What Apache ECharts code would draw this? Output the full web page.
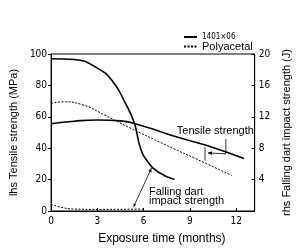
<!DOCTYPE html>
<html><head><meta charset="utf-8">
<script src="https://cdn.jsdelivr.net/npm/echarts@6/dist/echarts.min.js"></script>
<style>html,body{margin:0;padding:0;background:#fff}#c{width:300px;height:250px}</style>
</head><body><div id="c"></div>
<script>
// ---- data ----
const xTicks = [0, 3, 6, 9, 12];
const lhsTicks = [0, 20, 40, 60, 80, 100];
const rhsTicks = [4, 8, 12, 16, 20];

// 1401x06 tensile strength (MPa, lhs)
const t1401X = [0, 1.5, 3, 4.5, 6, 8, 10, 12.5];
const t1401Y = [55.6, 57.2, 58, 57.4, 54, 47.6, 42, 33.5];
// Polyacetal tensile strength (MPa, lhs)
const tPolyX = [0, 0.8, 2, 3.5, 5, 7.5, 10, 11.7];
const tPolyY = [68.5, 69.5, 67.8, 61, 53.5, 41.8, 30.5, 22.7];
// 1401x06 falling dart impact strength (J, rhs)
const f1401X = [0, 1.5, 3, 4, 4.8, 5.4, 5.8, 6.3, 7.0, 8.0];
const f1401Y = [19.4, 19.3, 18.2, 16.5, 13.8, 11.2, 8.0, 6.2, 4.9, 4.0];
// Polyacetal falling dart impact strength (J, rhs)
const fPolyX = [0, 0.7, 1.5, 3, 6];
const fPolyY = [0.85, 0.45, 0.25, 0.2, 0.25];

const zip = (a, b) => a.map((v, i) => [v, b[i]]);
const tickFont = "'Liberation Sans Narrow','DejaVu Sans Condensed','Arial Narrow',sans-serif";
const sans = "'Liberation Sans', Arial, sans-serif";

const chart = echarts.init(document.getElementById('c'), null, {renderer: 'canvas'});
const lineSeries = (name, axis, xs, ys, solid) => ({
  name, type: 'line', yAxisIndex: axis, data: zip(xs, ys), smooth: 0.5, symbol: 'none',
  lineStyle: {color: '#000', width: solid ? 1.6 : 1, type: solid ? 'solid' : [2, 1.5]},
  itemStyle: {color: '#000'}
});
const option = {
  animation: false,
  backgroundColor: '#fff',
  grid: {left: 42, right: 43, top: 54, bottom: 34, show: true, borderColor: '#000', borderWidth: 1},
  legend: {
    orient: 'vertical', left: 178, top: 28, itemGap: 0, itemWidth: 13, itemHeight: 9,
    data: ['1401×06', 'Polyacetal'],
    itemStyle: {color: 'rgba(0,0,0,0)', borderColor: 'rgba(0,0,0,0)', borderWidth: 0},
    formatter: n => n === 'Polyacetal' ? '{b|' + n + '}' : '{a|' + n + '}',
    textStyle: {
      rich: {
        a: {fontSize: 8, fontFamily: tickFont, color: '#000'},
        b: {fontSize: 11, fontFamily: sans, color: '#000'}
      }
    }
  },
  xAxis: {
    type: 'value', min: 0, max: 13.2,
    name: 'Exposure time (months)', nameLocation: 'middle', nameGap: 22,
    nameTextStyle: {fontSize: 12, color: '#000', fontFamily: sans, padding: [0, 0, 0, 18]},
    axisLine: {lineStyle: {color: '#000', width: 1}},
    axisTick: {inside: true, length: 3, customValues: xTicks, lineStyle: {color: '#000'}},
    axisLabel: {customValues: xTicks, fontSize: 10, color: '#000', margin: 5, fontFamily: tickFont},
    splitLine: {show: false}
  },
  yAxis: [{
    type: 'value', min: 0, max: 100, position: 'left',
    name: 'lhs Tensile strength (MPa)', nameLocation: 'middle', nameGap: 24, nameRotate: 90,
    nameTextStyle: {fontSize: 11, color: '#000', fontFamily: sans},
    axisLine: {show: true, lineStyle: {color: '#000', width: 1}},
    axisTick: {show: true, length: 3, customValues: lhsTicks, lineStyle: {color: '#000'}},
    axisLabel: {customValues: lhsTicks, fontSize: 10, color: '#000', margin: 4, fontFamily: tickFont},
    splitLine: {show: false}
  }, {
    type: 'value', min: 0, max: 20, position: 'right',
    name: 'rhs Falling dart impact strength (J)', nameLocation: 'middle', nameGap: 15, nameRotate: 90,
    nameTextStyle: {fontSize: 11, color: '#000', fontFamily: sans},
    axisLine: {show: true, lineStyle: {color: '#000', width: 1}},
    axisTick: {show: true, inside: true, length: 3, customValues: rhsTicks, lineStyle: {color: '#000'}},
    axisLabel: {customValues: rhsTicks, fontSize: 10, color: '#000', margin: 4, fontFamily: tickFont},
    splitLine: {show: false}
  }],
  series: [
    lineSeries('1401×06', 0, t1401X, t1401Y, true),
    lineSeries('Polyacetal', 0, tPolyX, tPolyY, false),
    lineSeries('1401×06', 1, f1401X, f1401Y, true),
    lineSeries('Polyacetal', 1, fPolyX, fPolyY, false)
  ]
};
chart.setOption(option);

// ---- annotations placed in data coordinates (lhs scale) ----
const P = (x, y) => chart.convertToPixel({xAxisIndex: 0, yAxisIndex: 0}, [x, y]);
const lineEl = (pts, w) => ({type: 'polyline', shape: {points: pts}, style: {stroke: '#000', lineWidth: w || 0.8, fill: null}, silent: true});
function arrowHead(tip, from, size) {
  const dx = tip[0] - from[0], dy = tip[1] - from[1];
  const L = Math.hypot(dx, dy), ux = dx / L, uy = dy / L;
  const bx = tip[0] - ux * size, by = tip[1] - uy * size;
  return {type: 'polygon', shape: {points: [tip, [bx - uy * size * 0.45, by + ux * size * 0.45], [bx + uy * size * 0.45, by - ux * size * 0.45]]}, style: {fill: '#000'}, silent: true};
}
const tText = P(10.65, 51.2);
const barTop = P(9.98, 40.7), barBot = P(9.98, 32.1);
const l1 = P(11.33, 45.7), l2 = P(11.33, 36.4), l3 = P(10.17, 37.0);
const fText1 = P(6.35, 12.3), fText2 = P(6.35, 6.2);
const a1 = P(6.51, 27.3), a2 = P(5.35, 2.7);
chart.setOption({
  graphic: [
    {type: 'text', x: tText[0], y: tText[1], style: {text: 'Tensile strength', fontSize: 11, fill: '#000', align: 'center', verticalAlign: 'middle', fontFamily: sans}, silent: true},
    lineEl([barTop, barBot]),
    lineEl([l1, l2, l3]),
    arrowHead(l3, l2, 4),
    {type: 'text', x: fText1[0], y: fText1[1], style: {text: 'Falling dart', fontSize: 11, fill: '#000', align: 'left', verticalAlign: 'middle', fontFamily: sans}, silent: true},
    {type: 'text', x: fText2[0], y: fText2[1], style: {text: 'impact strength', fontSize: 11, fill: '#000', align: 'left', verticalAlign: 'middle', fontFamily: sans}, silent: true},
    lineEl([a1, a2]),
    arrowHead(a1, a2, 4),
    arrowHead(a2, a1, 3)
  ]
});
</script></body></html>
